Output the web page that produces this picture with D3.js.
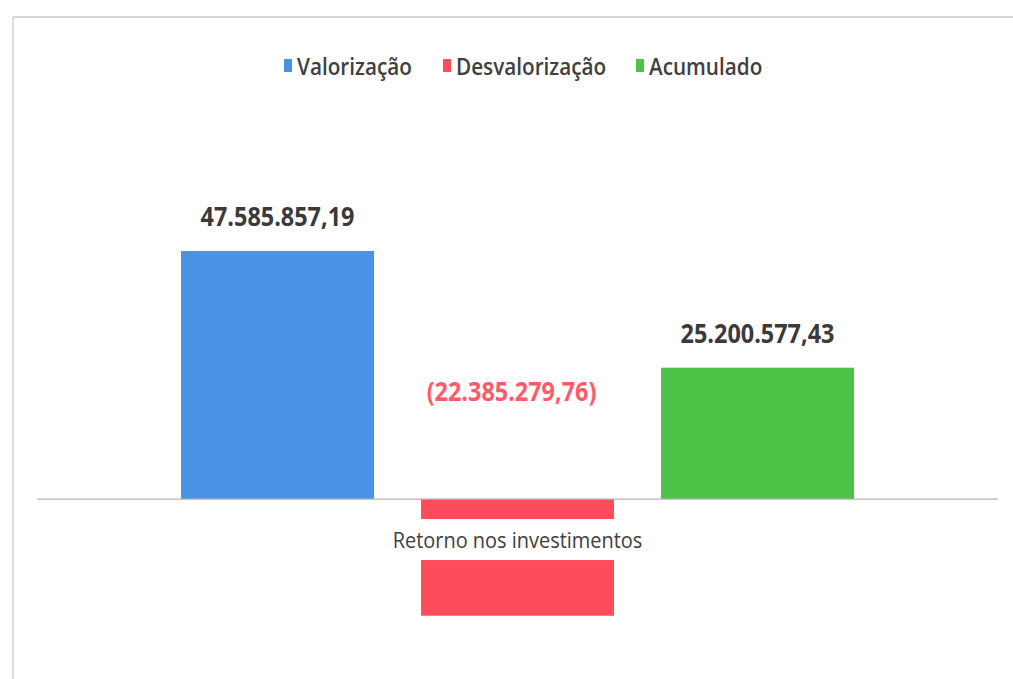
<!DOCTYPE html>
<html>
<head>
<meta charset="utf-8">
<script src="https://cdn.jsdelivr.net/npm/d3@7"></script>
<style>
  html, body { margin: 0; padding: 0; background: #fff; }
  svg { display: block; }
  text { font-family: "Open Sans", "Noto Sans", sans-serif; }
</style>
</head>
<body>
<svg id="chart" width="1013" height="679"></svg>
<script>
// Retorno nos investimentos
const categories = ["Retorno nos investimentos"];
const seriesNames = ["Valorização", "Desvalorização", "Acumulado"];
const seriesValues = [47585857.19, -22385279.76, 25200577.43];
const valueLabels = ["47.585.857,19", "(22.385.279,76)", "25.200.577,43"];
const seriesColors = ["#4A92E6", "#FF4C5C", "#4CC346"];

const svg = d3.select("#chart");
const W = 1013, H = 679;

// narrow the glyphs of a text node to a fraction of its natural width
function condense(sel, factor) {
  sel.each(function () {
    const w = this.getComputedTextLength();
    d3.select(this).attr("textLength", w * factor).attr("lengthAdjust", "spacingAndGlyphs");
  });
}

// chart frame (top and left edges)
svg.append("line").attr("x1", 13).attr("x2", W).attr("y1", 17).attr("y2", 17)
  .attr("stroke", "#c8c8c8").attr("stroke-width", 1.5);
svg.append("line").attr("x1", 13).attr("x2", 13).attr("y1", 17).attr("y2", H)
  .attr("stroke", "#d0d0d0").attr("stroke-width", 1.5);

const y = d3.scaleLinear().domain([-30e6, 50e6]).range([655.4, 238.4]);
const x0 = d3.scaleBand().domain(categories).range([37, 998]);
const x1 = d3.scaleBand().domain(seriesNames).range([157.5, 877.5])
  .paddingInner(0.196).paddingOuter(0.098);

const g = svg.append("g");

// bars
g.selectAll("rect.bar").data(seriesNames).join("rect")
  .attr("class", "bar")
  .attr("x", d => x1(d))
  .attr("width", x1.bandwidth())
  .attr("y", (d, i) => Math.min(y(0), y(seriesValues[i])))
  .attr("height", (d, i) => Math.abs(y(seriesValues[i]) - y(0)))
  .attr("fill", (d, i) => seriesColors[i]);

// zero axis line
g.append("line").attr("x1", 37).attr("x2", 998).attr("y1", y(0)).attr("y2", y(0))
  .attr("stroke", "#b4b4b4").attr("stroke-width", 1.2);

// category label with white backing
const catX = x0(categories[0]) + x0.bandwidth() / 2;
g.append("rect").attr("x", catX - 138).attr("y", y(0) + 20).attr("width", 276).attr("height", 41)
  .attr("fill", "#fff");
g.append("text").attr("x", catX).attr("y", y(0) + 49)
  .attr("text-anchor", "middle").attr("font-size", 21).attr("fill", "#404040")
  .text(categories[0])
  .call(condense, 0.95);

// value labels
g.selectAll("text.val").data(seriesNames).join("text")
  .attr("class", "val")
  .attr("x", (d, i) => x1(d) + x1.bandwidth() / 2 - (seriesValues[i] < 0 ? 6 : 0))
  .attr("y", (d, i) => seriesValues[i] >= 0 ? y(seriesValues[i]) - 25 : y(0) - 98)
  .attr("text-anchor", "middle")
  .attr("font-size", 26).attr("font-weight", "bold")
  .attr("fill", (d, i) => seriesValues[i] < 0 ? "#FF5A68" : "#3a3a3a")
  .text((d, i) => valueLabels[i])
  .call(condense, 0.9);

// legend
const legendX = [284, 443, 636];
const lg = svg.append("g");
seriesNames.forEach((name, i) => {
  lg.append("rect").attr("x", legendX[i]).attr("y", 59).attr("width", 8).attr("height", 13)
    .attr("fill", seriesColors[i]);
  lg.append("text").attr("x", legendX[i] + 13).attr("y", 75)
    .attr("font-size", 23).attr("font-weight", 600).attr("fill", "#404040")
    .text(name)
    .call(condense, 0.9);
});
</script>
</body>
</html>
